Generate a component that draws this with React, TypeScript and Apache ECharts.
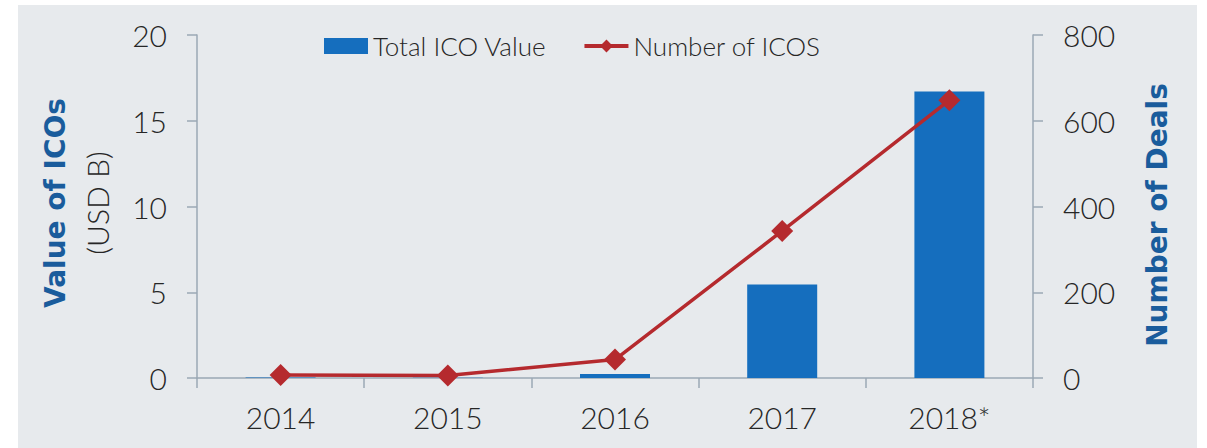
import React, { useEffect, useRef } from "react";
import * as echarts from "echarts";

const categories = ["2014", "2015", "2016", "2017", "2018*"];
const icoValue = [0.03, 0.02, 0.24, 5.45, 16.7];
const icoCount = [7, 6, 43, 343, 648];
const leftTicks = { min: 0, max: 20, interval: 5 };
const rightTicks = { min: 0, max: 800, interval: 200 };

const FONT = "Lato";
const TITLE_FONT = "DejaVu Sans";
const AXIS_COLOR = "#9ba8b4";
const TEXT_COLOR = "#262626";
const TITLE_BLUE = "#1a5c9c";

export default function App() {
  const ref = useRef<HTMLDivElement>(null);
  useEffect(() => {
    document.body.style.margin = "0";
    const chart = echarts.init(ref.current!, null, { renderer: "svg" });
    chart.setOption({
      animation: false,
      backgroundColor: "#ffffff",
      textStyle: { fontFamily: FONT },
      graphic: [
        {
          type: "rect",
          z: -10,
          silent: true,
          shape: { x: 18, y: 5, width: 1179, height: 443 },
          style: { fill: "#e7eaed" },
        },
        {
          type: "text",
          x: 55,
          y: 203,
          rotation: Math.PI / 2,
          style: {
            text: "Value of ICOs",
            fill: TITLE_BLUE,
            font: `bold 28px "${TITLE_FONT}"`,
            textAlign: "center",
            textVerticalAlign: "middle",
          },
        },
        {
          type: "text",
          x: 97,
          y: 203,
          rotation: Math.PI / 2,
          style: {
            text: "(USD B)",
            fill: TEXT_COLOR,
            font: `300 30px "${FONT}"`,
            textAlign: "center",
            textVerticalAlign: "middle",
          },
        },
        {
          type: "text",
          x: 1157,
          y: 215,
          rotation: Math.PI / 2,
          style: {
            text: "Number of Deals",
            fill: TITLE_BLUE,
            font: `bold 28px "${TITLE_FONT}"`,
            textAlign: "center",
            textVerticalAlign: "middle",
          },
        },
      ],
      legend: {
        left: 319,
        top: 28,
        itemWidth: 44,
        itemHeight: 16,
        itemGap: 36,
        textStyle: { fontSize: 26, fontWeight: 300, color: TEXT_COLOR, fontFamily: FONT },
        data: [
          { name: "Total ICO Value", icon: "rect" },
          { name: "Number of ICOS", lineStyle: { width: 4 } },
        ],
      },
      grid: { left: 197, right: 174, top: 35, bottom: 70, containLabel: false },
      xAxis: {
        type: "category",
        data: categories,
        boundaryGap: true,
        axisLine: { lineStyle: { color: AXIS_COLOR, width: 1.5 } },
        axisTick: { show: true, length: 10, alignWithLabel: false, lineStyle: { color: AXIS_COLOR, width: 1.5 } },
        axisLabel: { fontSize: 30, fontWeight: 300, color: TEXT_COLOR, margin: 24, fontFamily: FONT },
      },
      yAxis: [
        {
          type: "value",
          ...leftTicks,
          position: "left",
          axisLine: { show: true, lineStyle: { color: AXIS_COLOR, width: 1.5 } },
          axisTick: { show: true, length: 10, lineStyle: { color: AXIS_COLOR, width: 1.5 } },
          splitLine: { show: false },
          axisLabel: { fontSize: 30, fontWeight: 300, color: TEXT_COLOR, margin: 30, fontFamily: FONT },
        },
        {
          type: "value",
          ...rightTicks,
          position: "right",
          axisLine: { show: true, lineStyle: { color: AXIS_COLOR, width: 1.5 } },
          axisTick: { show: true, length: 10, lineStyle: { color: AXIS_COLOR, width: 1.5 } },
          splitLine: { show: false },
          axisLabel: { fontSize: 30, fontWeight: 300, color: TEXT_COLOR, margin: 30, fontFamily: FONT },
        },
      ],
      series: [
        {
          name: "Total ICO Value",
          type: "bar",
          yAxisIndex: 0,
          data: icoValue,
          barWidth: 70,
          itemStyle: { color: "#156ebe" },
        },
        {
          name: "Number of ICOS",
          type: "line",
          yAxisIndex: 1,
          data: icoCount,
          symbol: "diamond",
          symbolSize: 22,
          lineStyle: { color: "#b52a2e", width: 3.5 },
          itemStyle: { color: "#b52a2e" },
        },
      ],
    });
    return () => chart.dispose();
  }, []);
  return <div ref={ref} style={{ width: 1207, height: 448 }} />;
}
